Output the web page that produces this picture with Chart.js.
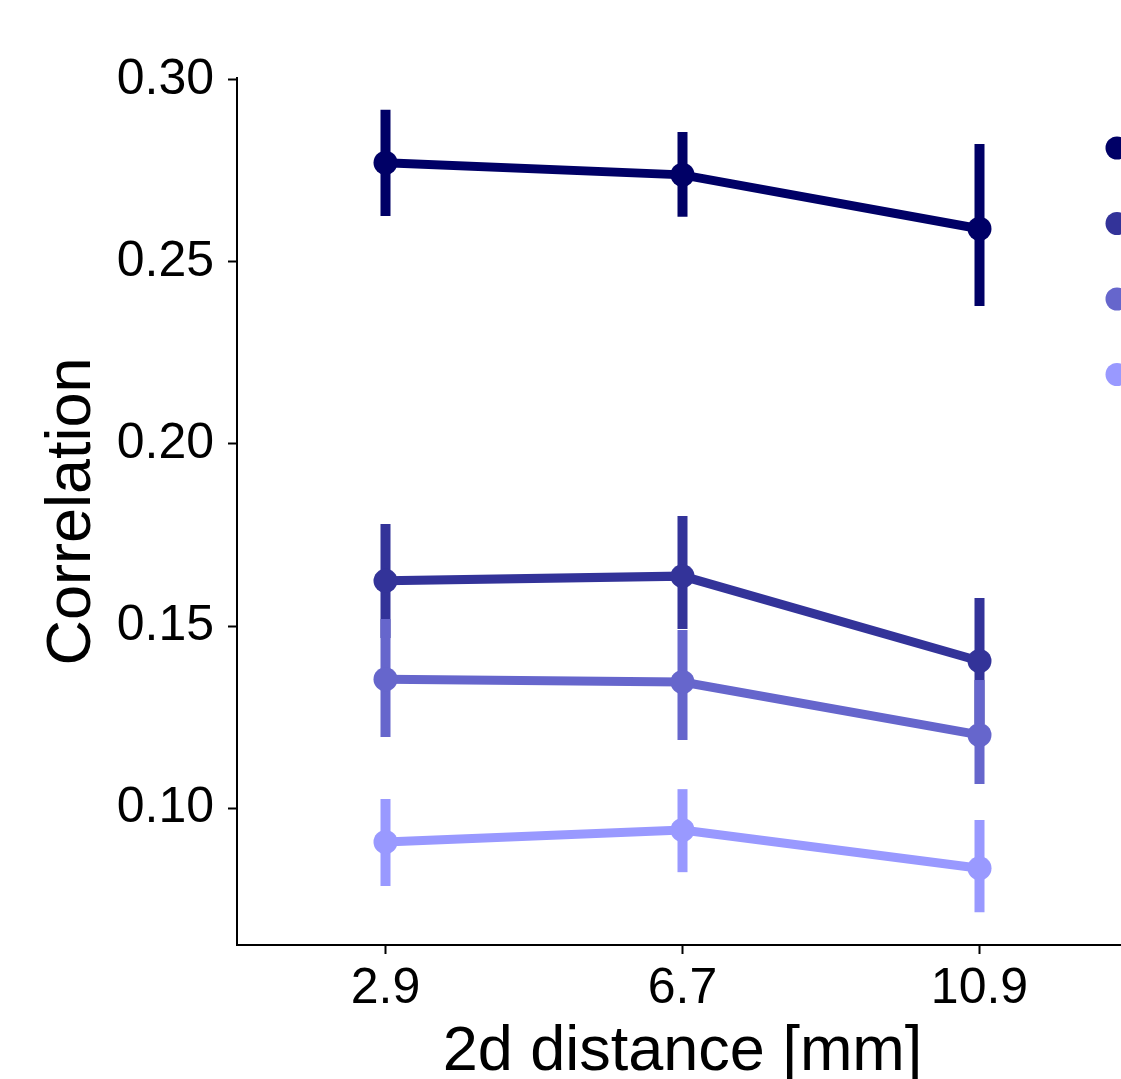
<!DOCTYPE html>
<html>
<head>
<meta charset="utf-8">
<title>Correlation vs 2d distance</title>
<script src="https://cdn.jsdelivr.net/npm/chart.js@4.4.0/dist/chart.umd.min.js"></script>
<style>
  html, body { margin: 0; padding: 0; background: #fff; overflow: hidden; }
  #corrChart { display: block; }
</style>
</head>
<body>
<canvas id="corrChart" width="1140" height="1079"></canvas>
<script>
// x categories (2d distance in mm)
const distLabels = ['2.9', '6.7', '10.9'];
// y tick labels
const yTickVals = [0.10, 0.15, 0.20, 0.25, 0.30];

// series 1 (darkest)
const s1Mean = [0.2772, 0.2739, 0.2591];
const s1Low  = [0.2626, 0.2624, 0.2379];
const s1High = [0.2918, 0.2857, 0.2824];
// series 2
const s2Mean = [0.1624, 0.1637, 0.1404];
const s2Low  = [0.1467, 0.1492, 0.1231];
const s2High = [0.1780, 0.1802, 0.1577];
// series 3
const s3Mean = [0.1354, 0.1346, 0.1201];
const s3Low  = [0.1195, 0.1187, 0.1066];
const s3High = [0.1519, 0.1489, 0.1352];
// series 4 (lightest)
const s4Mean = [0.0907, 0.0940, 0.0835];
const s4Low  = [0.0786, 0.0824, 0.0714];
const s4High = [0.1025, 0.1052, 0.0967];

const colors = ['#000066', '#333399', '#6666cc', '#9999ff'];

const fontName = '"Liberation Sans", Arial, Helvetica, sans-serif';

// 에러바 그리기 (각 데이터셋 그리기 직전에)
const errorBarPlugin = {
    id: 'errorBars',
    beforeDatasetDraw(chart, args) {
        const ds = chart.data.datasets[args.index];
        const yScale = chart.scales.y;
        const ctx = chart.ctx;
        ctx.save();
        ctx.strokeStyle = ds.borderColor;
        ctx.lineWidth = 10;
        ctx.lineCap = 'butt';
        args.meta.data.forEach((pt, i) => {
            ctx.beginPath();
            ctx.moveTo(pt.x, yScale.getPixelForValue(ds.errLow[i]));
            ctx.lineTo(pt.x, yScale.getPixelForValue(ds.errHigh[i]));
            ctx.stroke();
        });
        ctx.restore();
    }
};

// 오른쪽 범례 마커 (글자는 잘려서 안보임)
const legendDotPlugin = {
    id: 'legendDots',
    afterDraw(chart, args, opts) {
        const ctx = chart.ctx;
        ctx.save();
        chart.data.datasets.forEach((ds, i) => {
            ctx.fillStyle = ds.borderColor;
            ctx.beginPath();
            ctx.arc(opts.x, opts.y + i * opts.gap, opts.r, 0, Math.PI * 2);
            ctx.fill();
        });
        ctx.restore();
    }
};

function makeSet(label, mean, low, high, idx) {
    return {
        label: label,
        data: mean,
        errLow: low,
        errHigh: high,
        borderColor: colors[idx],
        backgroundColor: colors[idx],
        pointBackgroundColor: colors[idx],
        pointBorderWidth: 0,
        pointRadius: 12,
        borderWidth: 9,
        tension: 0,
        order: 4 - idx   // 나중 시리즈가 위에 그려지게
    };
}

const ctx = document.getElementById('corrChart').getContext('2d');
new Chart(ctx, {
    type: 'line',
    data: {
        labels: distLabels,
        datasets: [
            makeSet('series 1', s1Mean, s1Low, s1High, 0),
            makeSet('series 2', s2Mean, s2Low, s2High, 1),
            makeSet('series 3', s3Mean, s3Low, s3High, 2),
            makeSet('series 4', s4Mean, s4Low, s4High, 3)
        ]
    },
    options: {
        responsive: false,
        animation: false,
        layout: { padding: { top: 78, right: 10, left: 0, bottom: 0 } },
        plugins: {
            legend: { display: false },
            tooltip: { enabled: false },
            legendDots: { x: 1117, y: 148, gap: 75.5, r: 11.5 }
        },
        scales: {
            x: {
                type: 'category',
                offset: true,
                grid: { offset: false, drawOnChartArea: false, drawTicks: true, tickLength: 9, tickWidth: 2, tickColor: '#000' },
                border: { color: '#000', width: 2 },
                ticks: { color: '#000', padding: 5, font: { family: fontName, size: 50 }, maxRotation: 0 },
                title: {
                    display: true,
                    text: '2d distance [mm]',
                    color: '#000',
                    font: { family: fontName, size: 63, lineHeight: 0.85 },
                    padding: { top: 0, bottom: 0 }
                },
                afterFit(scale) { scale.height = 1079 - 945; }
            },
            y: {
                min: 0.0624,
                max: 0.3005,
                grid: { drawOnChartArea: false, drawTicks: true, tickLength: 9, tickWidth: 2, tickColor: '#000' },
                border: { color: '#000', width: 2 },
                afterBuildTicks(scale) {
                    scale.ticks = yTickVals.map(v => ({ value: v }));
                },
                ticks: {
                    color: '#000',
                    padding: 14,
                    font: { family: fontName, size: 50 },
                    callback: v => Number(v).toFixed(2)
                },
                title: {
                    display: true,
                    text: 'Correlation',
                    color: '#000',
                    font: { family: fontName, size: 63, lineHeight: 1 },
                    padding: { top: 41, bottom: 0 }
                },
                afterFit(scale) { scale.width = 237; }
            }
        }
    },
    plugins: [errorBarPlugin, legendDotPlugin]
});
</script>
</body>
</html>
